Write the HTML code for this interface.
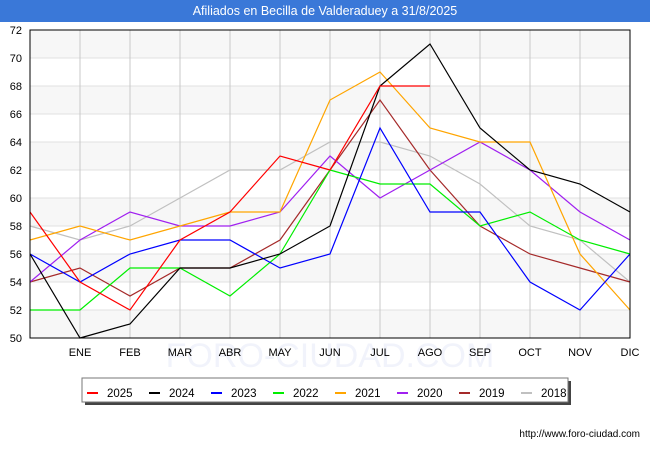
<!DOCTYPE html>
<html><head><meta charset="utf-8"><style>
body{margin:0;width:650px;height:450px;background:#fff;font-family:"Liberation Sans","DejaVu Sans",sans-serif;overflow:hidden;position:relative}
#title{position:absolute;left:0;top:0;width:650px;height:22px;background:#3a78d8;color:#fff;font-size:12.5px;text-align:center;line-height:23px;z-index:2}
</style></head><body>
<div id="title">Afiliados en Becilla de Valderaduey a 31/8/2025</div>
<svg id="chart" width="650" height="450" style="position:absolute;left:0;top:0"></svg>
<script>
const months=["","ENE","FEB","MAR","ABR","MAY","JUN","JUL","AGO","SEP","OCT","NOV","DIC"];
const yTicks=[50,52,54,56,58,60,62,64,66,68,70,72];
const years=["2025","2024","2023","2022","2021","2020","2019","2018"];
const colors=["#ff0000","#000000","#0000ff","#00ee00","#ffa500","#a020f0","#a52a2a","#c0c0c0"];
const s2025=[59,54,52,57,59,63,62,68,68];
const s2024=[56,50,51,55,55,56,58,68,71,65,62,61,59];
const s2023=[56,54,56,57,57,55,56,65,59,59,54,52,56];
const s2022=[52,52,55,55,53,56,62,61,61,58,59,57,56];
const s2021=[57,58,57,58,59,59,67,69,65,64,64,56,52];
const s2020=[54,57,59,58,58,59,63,60,62,64,62,59,57];
const s2019=[54,55,53,55,55,57,62,67,62,58,56,55,54];
const s2018=[58,57,58,60,62,62,64,64,63,61,58,57,54];
const series=[s2025,s2024,s2023,s2022,s2021,s2020,s2019,s2018];
const L=30,R=630,T=30,B=338;
const x=i=>L+i*(R-L)/(months.length-1);
const y=v=>B-(v-50)*(B-T)/22;
const svg=document.getElementById('chart');
const NS="http://www.w3.org/2000/svg";
function mk(t,a,p){const e=document.createElementNS(NS,t);for(const k in a)e.setAttribute(k,a[k]);(p||svg).appendChild(e);return e;}
const wm=mk('text',{x:330,y:367,'text-anchor':'middle','font-size':34,fill:'#f1f3fb'});wm.textContent="FORO-CIUDAD.COM";


for(let i=0;i<yTicks.length-1;i+=2){const r=mk('rect',{x:L,y:y(yTicks[i+1]),width:R-L,height:y(yTicks[i])-y(yTicks[i+1]),fill:'#f7f7f7'});

}
yTicks.forEach(v=>{const l=mk('line',{x1:L,x2:R,y1:y(v),y2:y(v),stroke:'#e0e0e0'});


const t=mk('text',{x:L-8,y:y(v)+4,'text-anchor':'end','font-size':11,fill:'#000'});t.textContent=v;

});
months.forEach((m,i)=>{if(i==0)return;const l=mk('line',{x1:x(i),x2:x(i),y1:T,y2:B,stroke:'#c8c8c8'});


const t=mk('text',{x:x(i),y:B+18,'text-anchor':'middle','font-size':11,fill:'#000'});t.textContent=m;

});
for(let k=series.length-1;k>=0;k--){const pts=series[k].map((v,i)=>x(i)+','+y(v)).join(' ');
const p=mk('polyline',{points:pts,fill:'none',stroke:colors[k],'stroke-width':1.2});

}
const fr=mk('rect',{x:L,y:T,width:R-L,height:B-T,fill:'none',stroke:'#000'});


const lg=mk('g',{});


mk('rect',{x:85,y:381,width:486,height:24,fill:'#444'},lg);
mk('rect',{x:82,y:378,width:486,height:24,fill:'#fff',stroke:'#777'},lg);
years.forEach((yr,k)=>{const g=mk('g',{},lg);


mk('line',{x1:87+k*62,x2:98+k*62,y1:393,y2:393,stroke:colors[k],'stroke-width':2},g);
const t=mk('text',{x:107+k*62,y:397,'font-size':11.5,fill:'#000'},g);t.textContent=yr;});
const u=mk('text',{x:640,y:437,'text-anchor':'end','font-size':10,fill:'#000'});u.textContent="http://www.foro-ciudad.com";


</script>
</body></html>
